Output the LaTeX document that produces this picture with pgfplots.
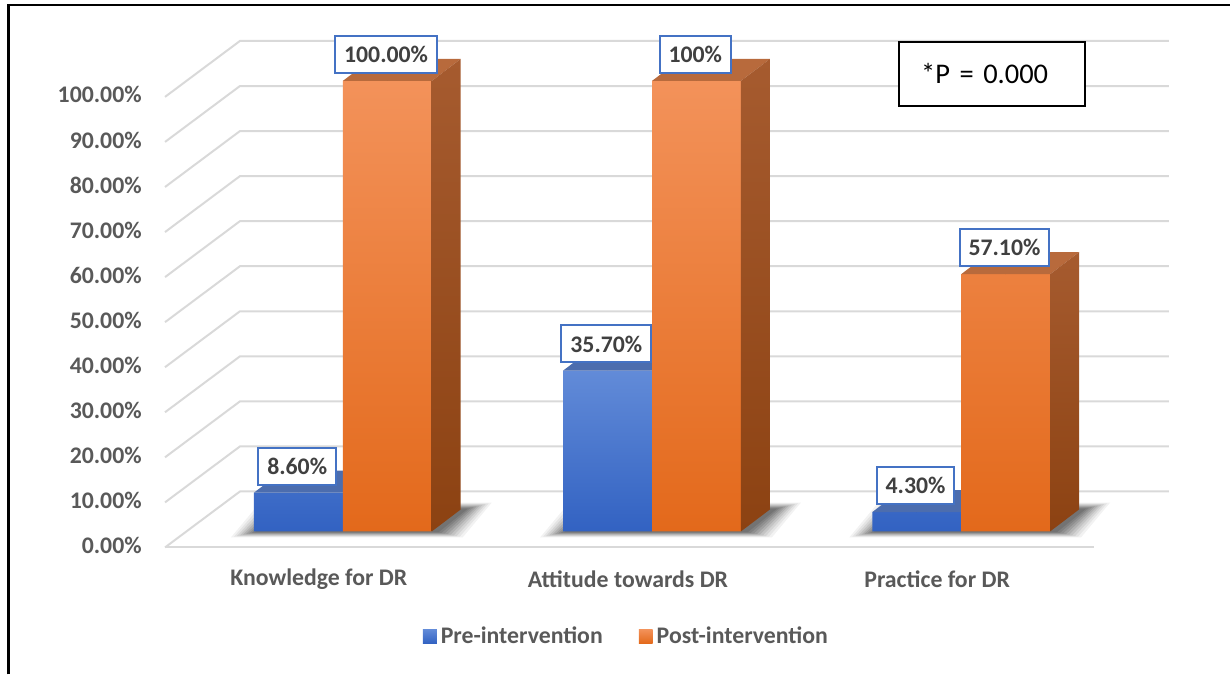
\documentclass[border=0pt]{standalone}
\usepackage{pgfplots}
\pgfplotsset{compat=1.18}
\usepackage{pgfplotstable}
\usepackage{fontspec}
\setmainfont{Carlito}

\definecolor{blueA}{HTML}{628BD8}
\definecolor{blueB}{HTML}{3262C2}
\definecolor{blueTop}{HTML}{4C6DAE}
\definecolor{orA}{HTML}{F3925A}
\definecolor{orM}{HTML}{F47C22}
\definecolor{orB}{HTML}{E3691B}
\definecolor{orTop}{HTML}{B86A3C}
\definecolor{sideA}{HTML}{A65B2F}
\definecolor{sideB}{HTML}{8C4212}
\definecolor{gridc}{HTML}{D9D9D9}
\definecolor{lblc}{HTML}{595959}
\definecolor{lbltxt}{HTML}{404040}
\definecolor{boxc}{HTML}{4472C4}

\pgfplotstableread{
x pre post prel postl
343 8.6 100 8.60 100.00
652.5 35.7 100 35.70 100
962 4.3 57.1 4.30 57.10
}\data

\newcommand\lblfont{\fontsize{11.9}{14}\selectfont\bfseries}

% soft shadow layer on the floor under a group of two bars
\newcommand\shadowlayer[3]{%
  \pgfmathsetmacro\myshA{#1-89-#2+4}%
  \pgfmathsetmacro\myshB{#1+89+#2+4}%
  \pgfmathsetmacro\myshC{#1+89+29+#2+4}%
  \pgfmathsetmacro\myshD{#1-89+29-#2+4}%
  \pgfmathsetmacro\myshY{-0.22*#2/4.51}%
  \pgfmathsetmacro\myshZ{4.878+0.25*#2/4.51}%
  \edef\mytmp{\noexpand\fill[black,opacity=#3] (axis cs:\myshA,\myshY) -- (axis cs:\myshB,\myshY) -- (axis cs:\myshC,\myshZ) -- (axis cs:\myshD,\myshZ) -- cycle;}%
  \mytmp
}
% top face of a bar: #1 centre x of front face, #2 value, #3 colour
\newcommand\topface[3]{%
  \pgfmathsetmacro\myfA{#1-44.5}%
  \pgfmathsetmacro\myfB{#1+44.5}%
  \pgfmathsetmacro\myfC{#1+44.5+29}%
  \pgfmathsetmacro\myfD{#1-44.5+29}%
  \pgfmathsetmacro\myvT{#2+4.878}%
  \edef\mytmp{\noexpand\addplot[fill=#3, draw=none, forget plot] coordinates {(\myfA,#2) (\myfB,#2) (\myfC,\myvT) (\myfD,\myvT)};}%
  \mytmp
}
% right side face of a bar
\newcommand\sideface[2]{%
  \pgfmathsetmacro\myfB{#1+44.5}%
  \pgfmathsetmacro\myfC{#1+44.5+29}%
  \pgfmathsetmacro\myvT{#2+4.878}%
  \edef\mytmp{\noexpand\addplot[draw=none, forget plot, shading=axis, top color=sideA, bottom color=sideB] coordinates {(\myfB,0) (\myfC,4.878) (\myfC,\myvT) (\myfB,#2)};}%
  \mytmp
}

\pgfplotsset{
  lab/.style={only marks, mark=*, mark size=0pt, forget plot,
    point meta=explicit symbolic,
    nodes near coords={\pgfplotspointmeta\%},
    every node near coord/.append style={anchor=center, xshift=-0.6pt, yshift=13.35pt,
      draw=boxc, line width=1pt, fill=white, text=lbltxt, font=\lblfont,
      inner xsep=4.5pt, inner ysep=0pt, minimum height=18.5pt}},
}

\begin{document}
\begin{tikzpicture}
\begin{axis}[
  scale only axis, width=615.5pt, height=337.5pt,
  xmin=0, xmax=1231, ymin=-31.707, ymax=117.96,
  enlargelimits=false, clip=false,
  axis line style={draw=none}, major tick length=0pt,
  xtick pos=bottom, ytick pos=left,
  xtick={343,652.5,962},
  xticklabels={Knowledge for DR, Attitude towards DR, Practice for DR},
  xticklabel style={anchor=center, xshift=-12pt, yshift=47.5pt, font=\lblfont, text=lblc},
  ytick={0,10,...,100},
  yticklabel={\pgfmathprintnumber[fixed,fixed zerofill,precision=2,assume math mode=true]{\tick}\%},
  yticklabel style={anchor=east, inner sep=0pt, xshift=71pt, yshift=-7pt, font=\lblfont, text=lblc},
  legend style={at={(0.5100,0.0563)}, anchor=center, draw=none, fill=none,
    legend columns=2, font=\lblfont, text=lblc,
    /tikz/every even column/.append style={column sep=16pt}},
  legend image code/.code={\path[#1, draw=none] (-2pt,-3.5pt) rectangle (5pt,3.5pt);},
]
% grid: side wall diagonals and back wall lines
\pgfplotsinvokeforeach{0,10,...,100}{
  \draw[gridc, line width=1pt] ([xshift=-10.7pt,yshift=-8pt]axis cs:186.4,#1) -- ([xshift=26.8pt,yshift=20pt]axis cs:186.4,#1) -- ([xshift=26.8pt,yshift=20pt]axis cs:1116.4,#1);
}
\draw[gridc, line width=1pt] ([xshift=-10.7pt,yshift=-8pt]axis cs:186.4,0) -- ([xshift=-10.7pt,yshift=-8pt]axis cs:1116.4,0);

% shadows
\pgfplotsinvokeforeach{0,1,2}{
  \pgfplotstablegetelem{#1}{x}\of\data \let\xc\pgfplotsretval
  \shadowlayer{\xc}{27}{0.05}
  \shadowlayer{\xc}{24}{0.06}
  \shadowlayer{\xc}{21}{0.07}
  \shadowlayer{\xc}{18}{0.08}
  \shadowlayer{\xc}{15}{0.09}
  \shadowlayer{\xc}{12}{0.1}
  \shadowlayer{\xc}{9}{0.1}
  \shadowlayer{\xc}{6}{0.1}
  \shadowlayer{\xc}{3}{0.1}
}

% pre-intervention bars
\addplot[ybar, bar width=89, bar shift=-44.5, draw=none, shading=axis, top color=blueA, bottom color=blueB]
  table[x=x, y=pre]{\data};
\addlegendentry{Pre-intervention}
\pgfplotsinvokeforeach{0,1,2}{
  \pgfplotstablegetelem{#1}{x}\of\data \let\xc\pgfplotsretval
  \pgfplotstablegetelem{#1}{pre}\of\data \let\vv\pgfplotsretval
  \pgfmathsetmacro\xb{\xc-44.5}
  \topface{\xb}{\vv}{blueTop}
}

% post-intervention bars
\addplot[ybar, bar width=89, bar shift=44.5, draw=none, shading=axis, top color=orA, middle color=orM, bottom color=orB]
  table[x=x, y=post]{\data};
\addlegendentry{Post-intervention}
\pgfplotsinvokeforeach{0,1,2}{
  \pgfplotstablegetelem{#1}{x}\of\data \let\xc\pgfplotsretval
  \pgfplotstablegetelem{#1}{post}\of\data \let\vv\pgfplotsretval
  \pgfmathsetmacro\xb{\xc+44.5}
  \topface{\xb}{\vv}{orTop}
  \sideface{\xb}{\vv}
}

% data labels
\addplot[lab] table[x expr=\thisrow{x}-44.5, y=pre, meta=prel]{\data};
\addplot[lab] table[x expr=\thisrow{x}+44.5, y=post, meta=postl]{\data};

% p-value box
\node[draw=black, line width=1pt, fill=white, text width=71pt, inner xsep=11pt, inner ysep=0pt,
  minimum height=32pt, align=left, font=\fontsize{14.25}{17}\selectfont, anchor=center]
  at (axis cs:993,101.55) {*P = 0.000};

% frame
\draw[black, line width=1.1pt] (axis cs:8.3,-31.707) -- (axis cs:8.3,116.79) -- (axis cs:1231,116.79);
\end{axis}
\end{tikzpicture}
\end{document}
